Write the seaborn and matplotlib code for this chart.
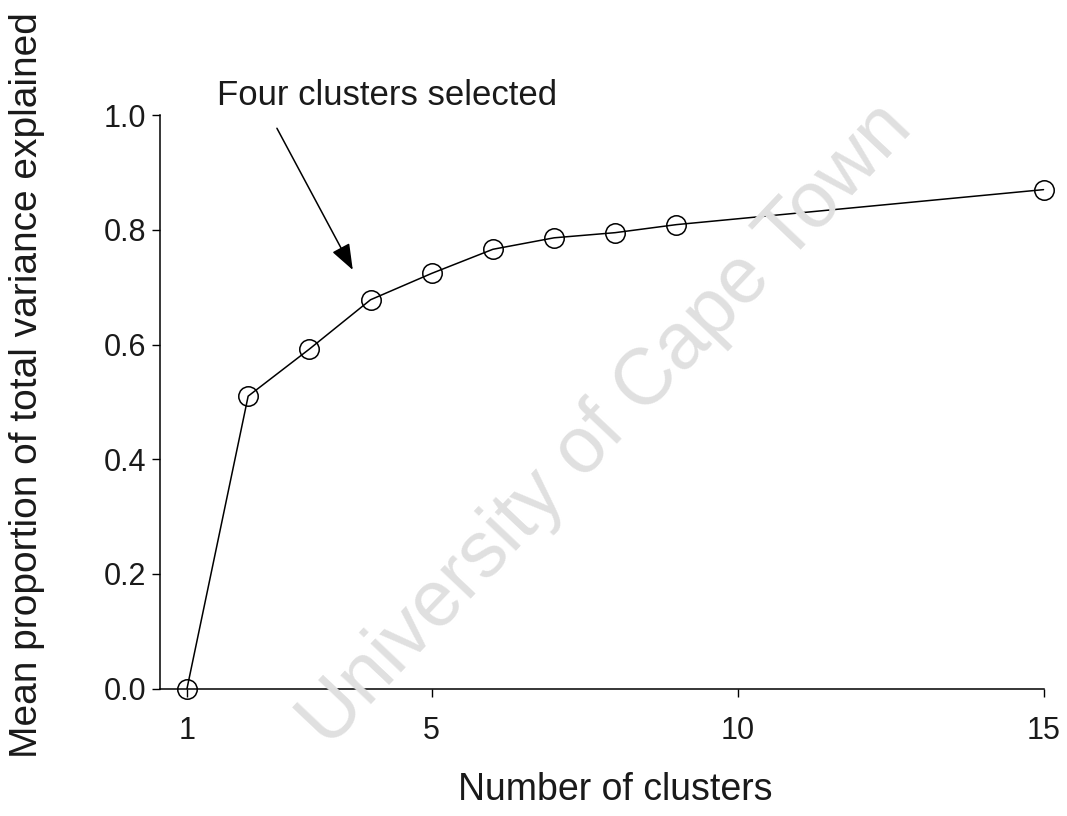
import matplotlib
matplotlib.use("Agg")
import matplotlib.pyplot as plt
import seaborn as sns
import pandas as pd

# Mean proportion of total variance explained by k clusters
n_clusters = [1, 2, 3, 4, 5, 6, 7, 8, 9, 15]
variance_explained = [0.0, 0.51, 0.592, 0.678, 0.724, 0.766, 0.786, 0.795, 0.809, 0.870]
x_ticks = [1, 5, 10, 15]
y_ticks = [0.0, 0.2, 0.4, 0.6, 0.8, 1.0]

sns.set_theme(style="ticks")
plt.rcParams["font.family"] = ["Liberation Sans", "DejaVu Sans"]

ink = "#1a1a1a"
df = pd.DataFrame({"k": n_clusters, "v": variance_explained})

fig = plt.figure(figsize=(10.67, 8.16), dpi=100)
ax = fig.add_axes([0.150, 0.156, 0.828, 0.703])

# watermark
fig.text(0.569, 0.479, "University of Cape Town", rotation=46.6,
         fontsize=57, color="#e0e0e0", ha="center", va="center", zorder=0)

sns.lineplot(data=df, x="k", y="v", ax=ax, color="black", linewidth=1.1,
             marker="o", markersize=14, markerfacecolor="none",
             markeredgecolor="black", markeredgewidth=1.1, clip_on=False)

ax.set_xlim(0.56, 15)
ax.set_ylim(0, 1.0)
ax.set_xticks(x_ticks)
ax.set_xticklabels([str(t) for t in x_ticks])
ax.set_yticks(y_ticks)
ax.set_yticklabels([f"{t:.1f}" for t in y_ticks])
ax.tick_params(axis="both", direction="out", length=6, width=1, labelsize=22,
               color="black", labelcolor=ink)
ax.tick_params(axis="x", pad=14)
ax.tick_params(axis="y", pad=4)

ax.set_xlabel("Number of clusters", fontsize=27, color=ink, va="center")
ax.xaxis.set_label_coords(0.515, -0.176)
ax.set_ylabel("Mean proportion of total variance explained", fontsize=28,
              color=ink, va="center")
ax.yaxis.set_label_coords(-0.151, 0.530)

for s in ["top", "right"]:
    ax.spines[s].set_visible(False)
for s in ["left", "bottom"]:
    ax.spines[s].set_color("black")
    ax.spines[s].set_linewidth(1.1)
ax.patch.set_alpha(0)

ax.text(4.27, 1.017, "Four clusters selected", fontsize=25, color=ink,
        ha="center", va="baseline", clip_on=False)
ax.annotate("", xy=(3.71, 0.730), xytext=(2.47, 0.977),
            annotation_clip=False,
            arrowprops=dict(arrowstyle="-|>,head_length=0.8,head_width=0.3",
                            mutation_scale=20, color="black", lw=1.1,
                            shrinkA=0, shrinkB=0))

fig.savefig("out.png", dpi=100)
